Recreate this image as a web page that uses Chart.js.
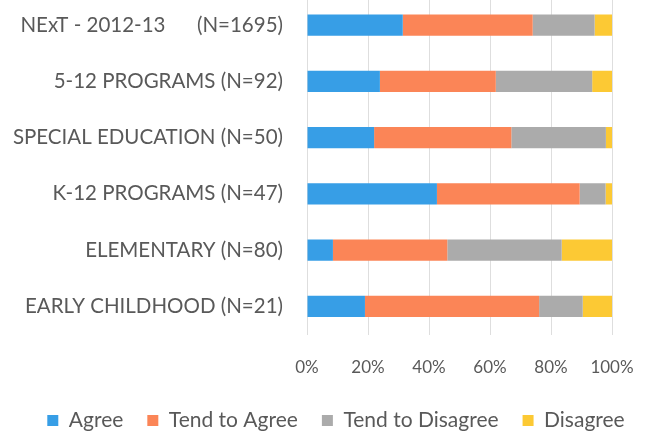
<!DOCTYPE html>
<html>
<head>
<meta charset="utf-8">
<script src="https://cdn.jsdelivr.net/npm/chart.js@4/dist/chart.umd.min.js"></script>
<style>
  html, body { margin: 0; padding: 0; background: #fff; overflow: hidden; width: 652px; height: 431px; }
  #wrap { position: absolute; left: 0; top: -3px; width: 652px; height: 444px; }
</style>
</head>
<body>
<div id="wrap"><canvas id="c" width="652" height="444"></canvas></div>
<script>
const categories = [
  "NExT - 2012-13      (N=1695)",
  "5-12 PROGRAMS (N=92)",
  "SPECIAL EDUCATION (N=50)",
  "K-12 PROGRAMS (N=47)",
  "ELEMENTARY (N=80)",
  "EARLY CHILDHOOD (N=21)"
];
const agree          = [31.4, 23.9, 22, 42.6, 8.5, 19.0];
const tendToAgree    = [42.6, 38.0, 45, 46.8, 37.5, 57.1];
const tendToDisagree = [20.3, 31.6, 31, 8.5, 37.5, 14.3];
const disagree       = [5.7, 6.5, 2, 2.1, 16.5, 9.6];
const seriesNames = ["Agree", "Tend to Agree", "Tend to Disagree", "Disagree"];
const xTicks = [0, 20, 40, 60, 80, 100];

const colors = ["#379ee6", "#fb8557", "#ababab", "#fcc934"];
const FONT = "Lato";
const series = [agree, tendToAgree, tendToDisagree, disagree];

// shift the (full-width) legend so it is centred like the original
const legendShift = {
  id: "legendShift",
  afterLayout(chart) {
    if (chart.legend) { chart.legend.left += 10; chart.legend.right += 10; }
  }
};

new Chart(document.getElementById("c"), {
  type: "bar",
  data: {
    labels: categories,
    datasets: series.map((d, i) => ({
      label: seriesNames[i],
      data: d,
      backgroundColor: colors[i],
      borderWidth: 0,
      barPercentage: 0.38,
      categoryPercentage: 1
    }))
  },
  plugins: [legendShift],
  options: {
    indexAxis: "y",
    responsive: false,
    animation: false,
    layout: { padding: { left: 0, right: 0, top: 0, bottom: 0 } },
    scales: {
      x: {
        stacked: true,
        min: 0, max: 100,
        afterBuildTicks: (axis) => { axis.ticks = xTicks.map(v => ({ value: v })); },
        afterFit: (axis) => {
          axis.height = 51.5;
          axis.paddingLeft = 0;
          axis.paddingRight = 40;
        },
        ticks: {
          callback: (v) => v + "%",
          color: "#595959",
          font: { family: FONT, size: 17 },
          padding: 22.5,
          maxRotation: 0
        },
        grid: { color: "#dedede", drawTicks: false, lineWidth: 1 },
        border: { display: false }
      },
      y: {
        stacked: true,
        afterFit: (axis) => {
          axis.width = 307;
          axis.paddingTop = 0;
          axis.paddingBottom = 0;
        },
        ticks: {
          color: "#595959",
          font: { family: FONT, size: 20.5 },
          padding: 24
        },
        grid: { display: false, drawTicks: false },
        border: { display: false }
      }
    },
    plugins: {
      legend: {
        position: "bottom",
        labels: {
          color: "#595959",
          font: { family: FONT, size: 21 },
          boxWidth: 11,
          boxHeight: 11,
          padding: 24
        }
      },
      tooltip: { enabled: false }
    }
  }
});
</script>
</body>
</html>
